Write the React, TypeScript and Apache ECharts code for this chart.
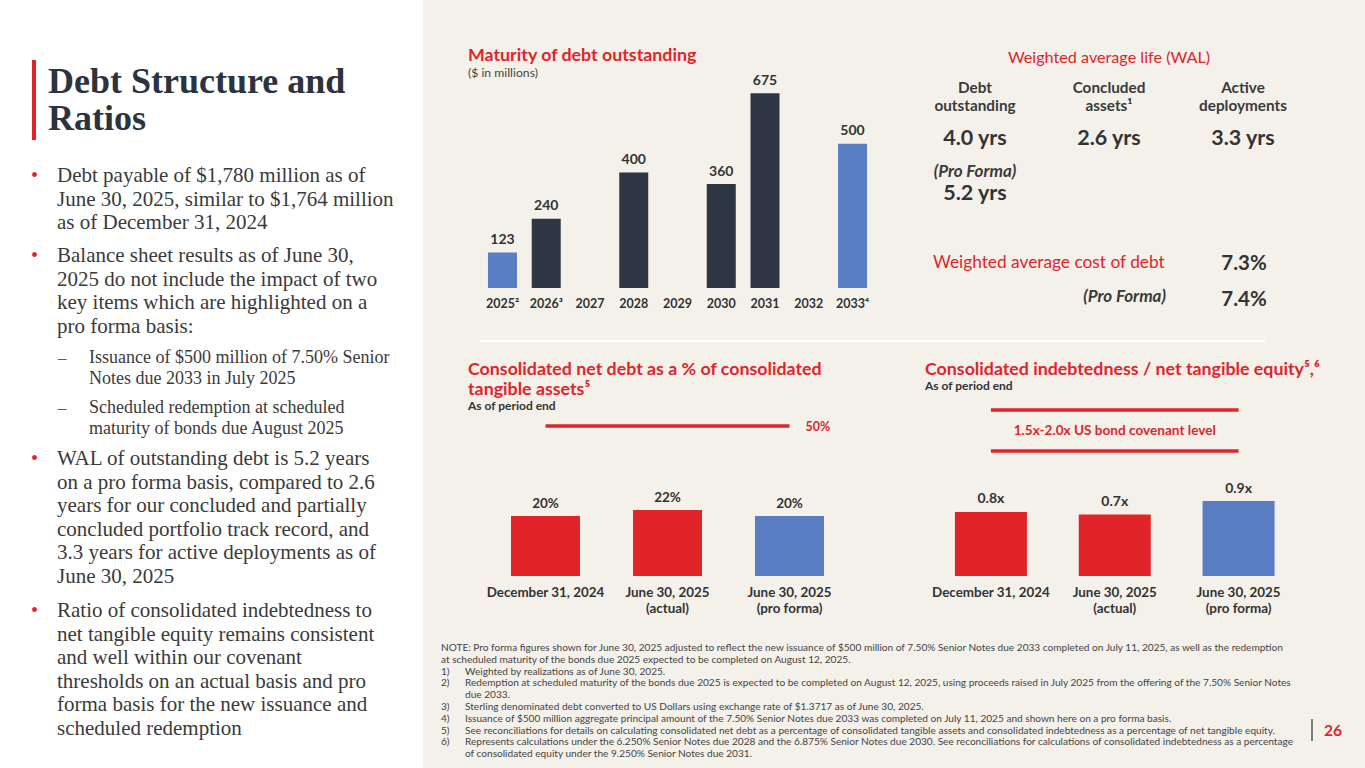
import React, { useEffect, useRef } from 'react';
import * as echarts from 'echarts';

// ---------- DATA ----------
const maturityYears = ['2025', '2026', '2027', '2028', '2029', '2030', '2031', '2032', '2033'];
const maturityNotes = ['²', '³', '', '', '', '', '', '', '⁴'];
const maturityValues: (number | null)[] = [123, 240, null, 400, null, 360, 675, null, 500];
const maturityProForma = [true, false, false, false, false, false, false, false, true];

const periodCategories = ['December 31, 2024', 'June 30, 2025\n(actual)', 'June 30, 2025\n(pro forma)'];
const periodProForma = [false, false, true];
const netDebtPct = [20, 22, 20];
const netDebtLimit = 50;
const indebtednessRatio = [0.77, 0.74, 0.9];
const covenantLow = 1.5;
const covenantHigh = 2.0;

const walHeaders = ['Debt\noutstanding', 'Concluded\nassets¹', 'Active\ndeployments'];
const walValues = ['4.0 yrs', '2.6 yrs', '3.3 yrs'];
const walProForma = '5.2 yrs';
const costOfDebt = '7.3%';
const costOfDebtProForma = '7.4%';

const bullets = [
  ['Debt payable of $1,780 million as of', 'June 30, 2025, similar to $1,764 million', 'as of December 31, 2024'],
  ['Balance sheet results as of June 30,', '2025 do not include the impact of two', 'key items which are highlighted on a', 'pro forma basis:'],
  ['WAL of outstanding debt is 5.2 years', 'on a pro forma basis, compared to 2.6', 'years for our concluded and partially', 'concluded portfolio track record, and', '3.3 years for active deployments as of', 'June 30, 2025'],
  ['Ratio of consolidated indebtedness to', 'net tangible equity remains consistent', 'and well within our covenant', 'thresholds on an actual basis and pro', 'forma basis for the new issuance and', 'scheduled redemption'],
];
const subBullets = [
  ['Issuance of $500 million of 7.50% Senior', 'Notes due 2033 in July 2025'],
  ['Scheduled redemption at scheduled', 'maturity of bonds due August 2025'],
];

const notes: [string, string][] = [
  ['', 'NOTE: Pro forma figures shown for June 30, 2025 adjusted to reflect the new issuance of $500 million of 7.50% Senior Notes due 2033 completed on July 11, 2025, as well as the redemption'],
  ['', 'at scheduled maturity of the bonds due 2025 expected to be completed on August 12, 2025.'],
  ['1)', 'Weighted by realizations as of June 30, 2025.'],
  ['2)', 'Redemption at scheduled maturity of the bonds due 2025 is expected to be completed on August 12, 2025, using proceeds raised in July 2025 from the offering of the 7.50% Senior Notes'],
  ['', 'due 2033.'],
  ['3)', 'Sterling denominated debt converted to US Dollars using exchange rate of $1.3717 as of June 30, 2025.'],
  ['4)', 'Issuance of $500 million aggregate principal amount of the 7.50% Senior Notes due 2033 was completed on July 11, 2025 and shown here on a pro forma basis.'],
  ['5)', 'See reconciliations for details on calculating consolidated net debt as a percentage of consolidated tangible assets and consolidated indebtedness as a percentage of net tangible equity.'],
  ['6)', 'Represents calculations under the 6.250% Senior Notes due 2028 and the 6.875% Senior Notes due 2030. See reconciliations for calculations of consolidated indebtedness as a percentage'],
  ['', 'of consolidated equity under the 9.250% Senior Notes due 2031.'],
];

// ---------- STYLE ----------
const RED = '#e0242a';
const DARK = '#2d3642';
const BLUE = '#5a7ec3';
const BEIGE = '#f4f1ea';
const TXT = '#333333';
const SANS = 'Lato';
const SERIF = 'Liberation Serif';

function text(t: string, x: number, y: number, s: any = {}) {
  return {
    type: 'text',
    x,
    y,
    z: 10,
    style: {
      text: t,
      fill: s.fill ?? TXT,
      fontFamily: s.fontFamily ?? SANS,
      fontSize: s.fontSize ?? 12,
      fontWeight: s.fontWeight ?? 'normal',
      fontStyle: s.fontStyle ?? 'normal',
      textAlign: s.align ?? 'left',
      textVerticalAlign: 'middle',
      lineHeight: s.lineHeight,
    },
  };
}

function buildGraphics() {
  const g: any[] = [];
  g.push({ type: 'rect', z: 0, shape: { x: 0, y: 0, width: 1365, height: 768 }, style: { fill: '#ffffff' } });
  g.push({ type: 'rect', z: 0, shape: { x: 423, y: 0, width: 942, height: 768 }, style: { fill: BEIGE } });

  // Left title
  g.push({ type: 'rect', z: 5, shape: { x: 32, y: 60, width: 4, height: 80 }, style: { fill: RED } });
  g.push(text('Debt Structure and', 48, 81, { fontFamily: SERIF, fontSize: 36, fontWeight: 'bold', fill: '#2b333e' }));
  g.push(text('Ratios', 48, 118, { fontFamily: SERIF, fontSize: 36, fontWeight: 'bold', fill: '#2b333e' }));

  // Bullets
  const bulletStarts = [175, 255, 458, 610];
  const LH = 23.6;
  bullets.forEach((lines, bi) => {
    g.push(text('•', 31, bulletStarts[bi], { fontFamily: SERIF, fontSize: 20, fill: RED }));
    lines.forEach((l, li) => {
      g.push(text(l, 57, bulletStarts[bi] + li * LH, { fontFamily: SERIF, fontSize: 21, fill: '#3a3a3a' }));
    });
  });
  const subStarts = [357, 407];
  subBullets.forEach((lines, si) => {
    g.push(text('–', 58, subStarts[si], { fontFamily: SERIF, fontSize: 17, fill: RED }));
    lines.forEach((l, li) => {
      g.push(text(l, 89, subStarts[si] + li * 20.5, { fontFamily: SERIF, fontSize: 18, fill: '#3a3a3a' }));
    });
  });

  // Top-left chart titles
  g.push(text('Maturity of debt outstanding', 468, 54, { fontSize: 17.8, fontWeight: 'bold', fill: RED }));
  g.push(text('($ in millions)', 468, 72, { fontSize: 12.2, fill: '#444' }));

  // WAL block
  g.push(text('Weighted average life (WAL)', 1109, 56, { fontSize: 16.2, fill: RED, align: 'center' }));
  const cols = [975, 1109, 1243];
  walHeaders.forEach((h, i) => {
    g.push(text(h, cols[i], 96, { fontSize: 15.3, fontWeight: 'bold', fill: '#3a3a3a', align: 'center', lineHeight: 18 }));
    g.push(text(walValues[i], cols[i], 137, { fontSize: 21.5, fontWeight: 'bold', fill: '#333', align: 'center' }));
  });
  g.push(text('(Pro Forma)', 975, 170, { fontSize: 17, fontWeight: 'bold', fontStyle: 'italic', fill: '#3a3a3a', align: 'center' }));
  g.push(text(walProForma, 975, 192, { fontSize: 21.5, fontWeight: 'bold', fill: '#333', align: 'center' }));
  g.push(text('Weighted average cost of debt', 933, 261, { fontSize: 17.3, fill: RED }));
  g.push(text(costOfDebt, 1244, 262, { fontSize: 20.5, fontWeight: 'bold', fill: '#333', align: 'center' }));
  g.push(text('(Pro Forma)', 1166, 295, { fontSize: 17, fontWeight: 'bold', fontStyle: 'italic', fill: '#3a3a3a', align: 'right' }));
  g.push(text(costOfDebtProForma, 1244, 298, { fontSize: 20.5, fontWeight: 'bold', fill: '#333', align: 'center' }));

  // divider
  g.push({ type: 'line', z: 5, shape: { x1: 480, y1: 341, x2: 1265, y2: 341 }, style: { stroke: '#ffffff', lineWidth: 2 } });

  // Bottom chart titles
  g.push(text('Consolidated net debt as a % of consolidated', 468, 368, { fontSize: 17.8, fontWeight: 'bold', fill: RED }));
  g.push(text('tangible assets⁵', 468, 388, { fontSize: 17.8, fontWeight: 'bold', fill: RED }));
  g.push(text('As of period end', 468, 405, { fontSize: 12, fontWeight: 'bold', fill: '#333' }));
  g.push(text('Consolidated indebtedness / net tangible equity⁵,⁶', 925, 368, { fontSize: 17.8, fontWeight: 'bold', fill: RED }));
  g.push(text('As of period end', 925, 385, { fontSize: 12, fontWeight: 'bold', fill: '#333' }));

  // Notes
  notes.forEach(([num, t], i) => {
    const y = 647 + i * 11.8;
    if (num) g.push(text(num, 441, y, { fontSize: 10.1, fill: '#444' }));
    g.push(text(t, num || i === 4 || i === 9 ? 465 : 441, y, { fontSize: 10.1, fill: '#444' }));
  });

  // page number
  g.push({ type: 'line', z: 5, shape: { x1: 1312, y1: 719, x2: 1312, y2: 741 }, style: { stroke: '#555', lineWidth: 1.5 } });
  g.push(text('26', 1324, 730, { fontSize: 15.5, fontWeight: 'bold', fill: RED }));
  return g;
}

function buildOption(): any {
  const axisLabelBase = { color: '#333', fontFamily: SANS, fontWeight: 'bold', fontSize: 12, interval: 0 };
  return {
    animation: false,
    backgroundColor: '#ffffff',
    graphic: { elements: buildGraphics() },
    grid: [
      { left: 480.6, width: 393.8, top: 86, height: 202 },
      { left: 484.5, width: 366, top: 396, height: 180 },
      { left: 929, width: 371.5, top: 368, height: 208 },
    ],
    xAxis: [
      {
        type: 'category', gridIndex: 0, data: maturityYears,
        axisLine: { show: false }, axisTick: { show: false },
        axisLabel: { ...axisLabelBase, fontSize: 12.5, margin: 9, formatter: (v: string, i: number) => v + maturityNotes[i] },
      },
      {
        type: 'category', gridIndex: 1, data: periodCategories,
        axisLine: { show: false }, axisTick: { show: false },
        axisLabel: { ...axisLabelBase, fontSize: 13.4, margin: 8, lineHeight: 16 },
      },
      {
        type: 'category', gridIndex: 2, data: periodCategories,
        axisLine: { show: false }, axisTick: { show: false },
        axisLabel: { ...axisLabelBase, fontSize: 13.4, margin: 8, lineHeight: 16 },
      },
    ],
    yAxis: [
      { type: 'value', gridIndex: 0, min: 0, max: 700, show: false, splitLine: { show: false } },
      { type: 'value', gridIndex: 1, min: 0, max: 60, show: false, splitLine: { show: false } },
      { type: 'value', gridIndex: 2, min: 0, max: 2.5, show: false, splitLine: { show: false } },
    ],
    series: [
      {
        type: 'bar', xAxisIndex: 0, yAxisIndex: 0, barWidth: 29,
        data: maturityValues.map((v, i) => ({ value: v, itemStyle: { color: maturityProForma[i] ? BLUE : DARK } })),
        label: { show: true, position: 'top', distance: 7, color: '#333', fontFamily: SANS, fontWeight: 'bold', fontSize: 14 },
      },
      {
        type: 'bar', xAxisIndex: 1, yAxisIndex: 1, barWidth: 69,
        data: netDebtPct.map((v, i) => ({ value: v, itemStyle: { color: periodProForma[i] ? BLUE : RED } })),
        label: { show: true, position: 'top', distance: 6, color: '#333', fontFamily: SANS, fontWeight: 'bold', fontSize: 13.5, formatter: '{c}%' },
        markLine: {
          silent: true, symbol: ['none', 'none'],
          lineStyle: { color: RED, width: 3.5, type: 'solid' },
          label: { show: true, position: 'end', distance: 16, formatter: netDebtLimit + '%', color: RED, fontFamily: SANS, fontSize: 12.5, fontWeight: 'bold' },
          data: [[{ coord: [0, netDebtLimit] }, { coord: [2, netDebtLimit] }]],
        },
      },
      {
        type: 'bar', xAxisIndex: 2, yAxisIndex: 2, barWidth: 72,
        data: indebtednessRatio.map((v, i) => ({ value: v, itemStyle: { color: periodProForma[i] ? BLUE : RED } })),
        label: { show: true, position: 'top', distance: 7, color: '#333', fontFamily: SANS, fontWeight: 'bold', fontSize: 14, formatter: (p: any) => p.value.toFixed(1) + 'x' },
        markLine: {
          silent: true, symbol: ['none', 'none'],
          lineStyle: { color: RED, width: 3.5, type: 'solid' },
          label: { show: false },
          data: [
            [{ coord: [0, covenantHigh] }, { coord: [2, covenantHigh] }],
            [{ coord: [0, covenantLow] }, { coord: [2, covenantLow] }],
          ],
        },
        markArea: {
          silent: true,
          itemStyle: { color: 'rgba(0,0,0,0)' },
          label: { show: true, position: 'inside', color: RED, fontFamily: SANS, fontSize: 13.6, fontWeight: 'bold' },
          data: [[{ name: `${covenantLow}x-${covenantHigh.toFixed(1)}x US bond covenant level`, coord: [0, covenantHigh] }, { coord: [2, covenantLow] }]],
        },
      },
    ],
  };
}

export default function App() {
  const ref = useRef<HTMLDivElement>(null);
  useEffect(() => {
    const chart = echarts.init(ref.current as HTMLDivElement, null, { renderer: 'svg', width: 1365, height: 768 });
    chart.setOption(buildOption());
    return () => chart.dispose();
  }, []);
  return <div ref={ref} style={{ position: 'fixed', left: 0, top: 0, width: 1365, height: 768 }} />;
}
